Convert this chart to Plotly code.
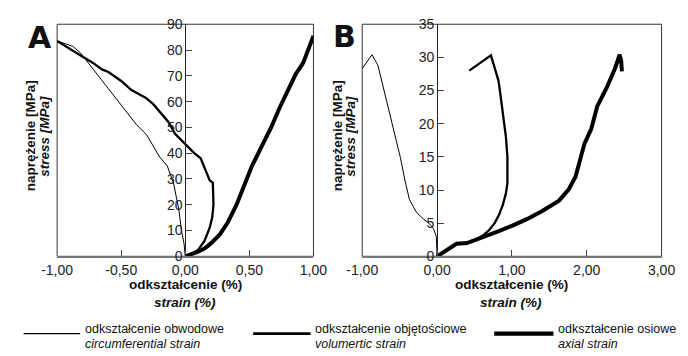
import plotly.graph_objects as go

# ---------------- data ----------------
# Panel A
a_circ_x = [0, -0.01, -0.03, -0.05, -0.09, -0.14, -0.20, -0.25, -0.30, -0.38, -0.45, -0.52,
            -0.58, -0.64, -0.70, -0.76, -0.82, -0.88, -0.94, -1.0]
a_circ_y = [0, 5, 10, 18, 28, 35, 38.5, 43, 47, 51, 55.5, 60, 63.5, 67.5, 71.5, 75.5, 79, 81.5, 82.5, 83.5]

a_vol_x = [0, 0.05, 0.10, 0.15, 0.19, 0.21, 0.22, 0.22, 0.215, 0.19, 0.16, 0.12, 0.07, 0.02,
           -0.03, -0.08, -0.13, -0.20, -0.25, -0.31, -0.37, -0.42, -0.50, -0.60, -0.65, -0.72,
           -0.82, -0.90, -0.95, -1.0]
a_vol_y = [0, 1, 2.5, 6, 11, 15, 20, 24, 28.5, 29.5, 33, 38, 40, 42.5, 45, 47.5, 52, 56, 59,
           61.5, 63, 64.5, 68, 71.5, 72.5, 75, 78, 80.5, 82, 83.5]

a_ax_x = [0, 0.05, 0.10, 0.15, 0.20, 0.27, 0.33, 0.40, 0.46, 0.52, 0.60, 0.67, 0.74, 0.80,
          0.86, 0.92, 0.96, 1.0]
a_ax_y = [0, 0.8, 1.8, 3, 5, 8.5, 13, 20, 27.5, 35, 43, 50, 58, 64.5, 70.5, 75, 80.5, 85.5]

# Panel B
b_circ_x = [0, 0, -0.01, -0.05, -0.11, -0.2, -0.28, -0.37, -0.43, -0.49, -0.58, -0.69, -0.79,
            -0.87, -1.0]
b_circ_y = [0, 1.5, 3, 4.2, 5, 5.8, 6.7, 8.6, 11.5, 14.9, 19.2, 24.5, 28.8, 30.4, 28.3]

b_vol_x = [0, 0.13, 0.26, 0.40, 0.52, 0.62, 0.70, 0.77, 0.83, 0.88, 0.92, 0.94, 0.94, 0.92,
           0.90, 0.87, 0.84, 0.82, 0.79, 0.76, 0.72, 0.43]
b_vol_y = [0, 1, 1.9, 2.0, 2.5, 3.2, 4.0, 5.0, 6.3, 7.8, 9.5, 11, 15, 18, 20, 22.5, 25, 26.5,
           27.8, 28.8, 30.3, 28.0]

b_ax_x = [0, 0.13, 0.26, 0.40, 0.60, 0.80, 1.00, 1.20, 1.40, 1.63, 1.76, 1.85, 1.97, 2.06,
          2.14, 2.27, 2.38, 2.44, 2.46, 2.47]
b_ax_y = [0, 1, 1.9, 2.0, 2.8, 3.7, 4.6, 5.6, 6.8, 8.4, 10.1, 12, 17, 19.2, 22.6, 25.5, 28.4,
          30.4, 29.5, 27.9]

# ticks
a_xtick_vals = [-1.0, -0.5, 0.0, 0.5, 1.0]
a_xtick_text = ["-1,00", "-0,50", "0,00", "0,50", "1,00"]
a_ytick_vals = [0, 10, 20, 30, 40, 50, 60, 70, 80, 90]
b_xtick_vals = [-1.0, 0.0, 1.0, 2.0, 3.0]
b_xtick_text = ["-1,00", "0,00", "1,00", "2,00", "3,00"]
b_ytick_vals = [0, 5, 10, 15, 20, 25, 30, 35]

series_names = ["odkształcenie obwodowe", "odkształcenie objętościowe", "odkształcenie osiowe"]
series_names_en = ["circumferential strain", "volumertic strain", "axial strain"]
x_title = ["odkształcenie (%)", "strain (%)"]
y_title = ["naprężenie [MPa]", "stress [MPa]"]

# ---------------- figure ----------------
W, H = 688, 356
FONT = "Liberation Sans, Arial, sans-serif"
widths = [1, 2.3, 4]

fig = go.Figure()
for xs, ys, w in [(a_circ_x, a_circ_y, widths[0]), (a_vol_x, a_vol_y, widths[1]), (a_ax_x, a_ax_y, widths[2])]:
    fig.add_trace(go.Scatter(x=xs, y=ys, mode="lines", line=dict(color="black", width=w),
                             xaxis="x", yaxis="y", showlegend=False, hoverinfo="skip"))
for xs, ys, w in [(b_circ_x, b_circ_y, widths[0]), (b_vol_x, b_vol_y, widths[1]), (b_ax_x, b_ax_y, widths[2])]:
    fig.add_trace(go.Scatter(x=xs, y=ys, mode="lines", line=dict(color="black", width=w),
                             xaxis="x2", yaxis="y2", showlegend=False, hoverinfo="skip"))

def px_x(p):
    return p / W

def px_y(p):
    return 1 - p / H

ydom = [px_y(260), px_y(17)]
adom = [px_x(43), px_x(311)]
bdom = [px_x(362), px_x(675)]
tickfont = dict(family=FONT, size=14, color="#222")

common_x = dict(showgrid=False, zeroline=False, showline=True, linecolor="#777", linewidth=2,
                ticks="inside", ticklen=6, tickcolor="#444", tickwidth=1, tickfont=tickfont)
common_y = dict(showgrid=False, zeroline=False, showline=True, linecolor="#222", linewidth=1,
                ticks="inside", ticklen=6, tickcolor="#444", tickwidth=1, tickfont=tickfont)

fig.update_layout(
    width=W, height=H, margin=dict(l=0, r=0, t=0, b=0),
    paper_bgcolor="white", plot_bgcolor="white",
    xaxis=dict(domain=adom, range=[-1, 1], anchor="y", tickvals=a_xtick_vals, ticktext=a_xtick_text, **common_x),
    yaxis=dict(domain=ydom, range=[0, 90], anchor="free",
               position=adom[0] + 0.5 * (adom[1] - adom[0]), tickvals=a_ytick_vals, **common_y),
    yaxis3=dict(domain=ydom, range=[0, 90], anchor="free", overlaying="y",
                position=adom[0] + 0.5 * (adom[1] - adom[0]), tickvals=a_ytick_vals,
                showticklabels=False, showline=False, showgrid=False, zeroline=False,
                ticks="outside", ticklen=4, tickcolor="#444"),
    xaxis2=dict(domain=bdom, range=[-1, 3], anchor="y2", tickvals=b_xtick_vals, ticktext=b_xtick_text, **common_x),
    yaxis2=dict(domain=ydom, range=[0, 35], anchor="free",
                position=bdom[0] + 0.25 * (bdom[1] - bdom[0]), tickvals=b_ytick_vals, **common_y),
    yaxis4=dict(domain=ydom, range=[0, 35], anchor="free", overlaying="y2",
                position=bdom[0] + 0.25 * (bdom[1] - bdom[0]), tickvals=b_ytick_vals,
                showticklabels=False, showline=False, showgrid=False, zeroline=False,
                ticks="outside", ticklen=4, tickcolor="#444"),
)

shapes = []
for xr, yr in [("x domain", "y domain"), ("x2 domain", "y2 domain")]:
    shapes.append(dict(type="rect", xref=xr, yref=yr, x0=0, x1=1, y0=0, y1=1,
                       line=dict(color="#333", width=1), layer="below"))

annotations = []

def ann(text, x, y, size, bold=False, italic=False, xanchor="center", yanchor="middle", angle=0, family=FONT):
    t = text
    if italic:
        t = "<i>" + t + "</i>"
    if bold:
        t = "<b>" + t + "</b>"
    annotations.append(dict(text=t, x=px_x(x), y=px_y(y), xref="paper", yref="paper",
                            xanchor=xanchor, yanchor=yanchor, showarrow=False, textangle=angle,
                            font=dict(family=family, size=size, color="#111")))

# panel letters
ann("A", 25, 31, 30, bold=True, family="DejaVu Sans, sans-serif")
ann("B", 343, 30, 30, bold=True, family="DejaVu Sans, sans-serif")

# axis titles
for cx in [177, 518]:
    ann(x_title[0], cx, 290, 13.5, bold=True)
    ann(x_title[1], cx, 308, 13.5, bold=True, italic=True)
for lx in [(16, 30), (337, 350)]:
    ann(y_title[0], lx[0], 134, 13.5, bold=True, angle=-90)
    ann(y_title[1], lx[1], 134, 13.5, bold=True, italic=True, angle=-90)

# legend
leg_x = [(8, 67), (248, 308), (500, 562)]
for (x0, x1), w, n1, n2 in zip(leg_x, widths, series_names, series_names_en):
    shapes.append(dict(type="line", xref="paper", yref="paper", x0=px_x(x0), x1=px_x(x1),
                       y0=px_y(341), y1=px_y(341), line=dict(color="black", width=w + 0.3)))
    ann(n1, x1 + 3, 336, 12.5, xanchor="left")
    ann(n2, x1 + 3, 352, 12.5, italic=True, xanchor="left")

fig.update_layout(shapes=shapes, annotations=annotations)
fig.write_html("out.html")
